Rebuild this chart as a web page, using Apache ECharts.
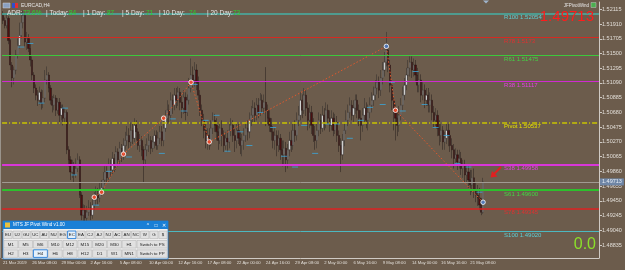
<!DOCTYPE html>
<html>
<head>
<meta charset="utf-8">
<script src="https://cdn.jsdelivr.net/npm/echarts@6/dist/echarts.min.js"></script>
<style>
html, body { margin: 0; padding: 0; background: #6c5c4c; }
#main { width: 625px; height: 270px; }
</style>
</head>
<body>
<div id="main"></div>
<script>
/**
 * 数据
 */
// EURCAD H4 收盘价 / 最高价 / 最低价（第一根的开盘价单独给出）
var firstOpen = 1.5203;
var closes = [1.5196,1.5189,1.5199,1.5168,1.5134,1.5116,1.5127,1.5148,1.5161,1.5175,
	1.5193,1.5203,1.5166,1.5171,1.5157,1.5141,1.5120,1.5102,1.5092,1.5085,
	1.5096,1.5081,1.5088,1.5113,1.5120,1.5102,1.5085,1.5078,1.5088,1.5071,
	1.5082,1.5064,1.5074,1.5060,1.5068,1.5016,1.5002,1.4985,1.4995,1.4981,
	1.4990,1.5002,1.4953,1.4925,1.4932,1.4921,1.4929,1.4935,1.4925,1.4939,
	1.4946,1.4953,1.4949,1.4960,1.4963,1.4974,1.4985,1.4977,1.4995,1.4988,
	1.5004,1.4995,1.5013,1.5002,1.5018,1.5009,1.5022,1.5029,1.5036,1.5027,
	1.5043,1.5032,1.5050,1.5041,1.5022,1.5029,1.5016,1.5002,1.5016,1.5022,
	1.5029,1.5018,1.5027,1.5036,1.5022,1.5032,1.5041,1.5029,1.5046,1.5060,
	1.5071,1.5064,1.5085,1.5078,1.5092,1.5085,1.5096,1.5082,1.5074,1.5089,
	1.5068,1.5085,1.5102,1.5120,1.5113,1.5127,1.5110,1.5092,1.5071,1.5057,
	1.5043,1.5029,1.5036,1.5027,1.5046,1.5057,1.5050,1.5041,1.5029,1.5046,
	1.5036,1.5022,1.5032,1.5027,1.5043,1.5050,1.5036,1.5029,1.5043,1.5032,
	1.5022,1.5029,1.5036,1.5046,1.5041,1.5057,1.5064,1.5074,1.5064,1.5078,
	1.5068,1.5085,1.5074,1.5082,1.5071,1.5060,1.5050,1.5041,1.5029,1.5036,
	1.5022,1.5032,1.5016,1.5009,1.5018,1.5002,1.5016,1.5029,1.5022,1.5043,
	1.5036,1.5057,1.5064,1.5085,1.5071,1.5092,1.5074,1.5057,1.5068,1.5050,
	1.5036,1.5029,1.5043,1.5057,1.5046,1.5064,1.5054,1.5071,1.5060,1.5050,
	1.5060,1.5043,1.5054,1.5036,1.5022,1.5009,1.5029,1.5043,1.5057,1.5068,
	1.5078,1.5064,1.5074,1.5085,1.5071,1.5060,1.5050,1.5064,1.5074,1.5057,
	1.5068,1.5078,1.5085,1.5092,1.5102,1.5110,1.5099,1.5116,1.5127,1.5138,
	1.5155,1.5134,1.5106,1.5085,1.5068,1.5060,1.5050,1.5064,1.5078,1.5092,
	1.5106,1.5120,1.5130,1.5138,1.5127,1.5134,1.5120,1.5106,1.5113,1.5092,
	1.5099,1.5085,1.5092,1.5078,1.5085,1.5068,1.5057,1.5064,1.5046,1.5036,
	1.5043,1.5027,1.5032,1.5043,1.5036,1.5022,1.5016,1.5004,1.5009,1.4999,
	1.5004,1.4990,1.4995,1.4981,1.4985,1.4974,1.4967,1.4977,1.4960,1.4953,
	1.4949,1.4939,1.4929,1.49713];
var highs = [1.5209,1.5200,1.5206,1.5202,1.5170,1.5138,1.5132,1.5155,1.5171,1.5193,
	1.5207,1.5210,1.5207,1.5180,1.5177,1.5163,1.5146,1.5124,1.5107,1.5099,
	1.5104,1.5100,1.5099,1.5127,1.5132,1.5124,1.5106,1.5091,1.5093,1.5092,
	1.5088,1.5088,1.5079,1.5079,1.5074,1.5071,1.5021,1.5007,1.5002,1.4999,
	1.5004,1.5011,1.5007,1.4957,1.4940,1.4939,1.4938,1.4946,1.4943,1.4949,
	1.4957,1.4965,1.4963,1.4971,1.4974,1.4985,1.4993,1.4993,1.5004,1.5002,
	1.5013,1.5010,1.5021,1.5018,1.5027,1.5024,1.5032,1.5041,1.5049,1.5046,
	1.5054,1.5052,1.5060,1.5057,1.5046,1.5038,1.5035,1.5021,1.5024,1.5032,
	1.5038,1.5035,1.5035,1.5043,1.5043,1.5041,1.5049,1.5049,1.5060,1.5071,
	1.5085,1.5079,1.5096,1.5093,1.5102,1.5102,1.5104,1.5102,1.5091,1.5099,
	1.5096,1.5093,1.5116,1.5143,1.5132,1.5138,1.5135,1.5118,1.5099,1.5079,
	1.5066,1.5052,1.5046,1.5046,1.5057,1.5068,1.5066,1.5060,1.5049,1.5054,
	1.5057,1.5043,1.5041,1.5043,1.5052,1.5060,1.5057,1.5046,1.5052,1.5052,
	1.5041,1.5038,1.5046,1.5054,1.5057,1.5068,1.5077,1.5085,1.5082,1.5088,
	1.5088,1.5095,1.5093,1.5093,1.5131,1.5079,1.5071,1.5060,1.5049,1.5046,
	1.5043,1.5043,1.5038,1.5029,1.5029,1.5027,1.5024,1.5041,1.5043,1.5054,
	1.5057,1.5068,1.5077,1.5096,1.5093,1.5102,1.5099,1.5082,1.5079,1.5077,
	1.5060,1.5049,1.5052,1.5068,1.5066,1.5077,1.5074,1.5082,1.5079,1.5071,
	1.5071,1.5068,1.5066,1.5063,1.5043,1.5032,1.5038,1.5054,1.5071,1.5079,
	1.5089,1.5085,1.5085,1.5093,1.5093,1.5079,1.5071,1.5074,1.5088,1.5082,
	1.5079,1.5089,1.5096,1.5104,1.5113,1.5121,1.5118,1.5127,1.5138,1.5152,
	1.5180,1.5163,1.5141,1.5113,1.5091,1.5079,1.5071,1.5077,1.5088,1.5104,
	1.5116,1.5130,1.5141,1.5146,1.5146,1.5143,1.5141,1.5130,1.5124,1.5121,
	1.5110,1.5107,1.5102,1.5102,1.5096,1.5093,1.5077,1.5074,1.5071,1.5057,
	1.5052,1.5049,1.5041,1.5054,1.5052,1.5043,1.5032,1.5024,1.5018,1.5016,
	1.5016,1.5013,1.5002,1.5002,1.4995,1.4995,1.4988,1.4988,1.4990,1.4971,
	1.4967,1.4963,1.4949,1.4977];
var lows = [1.5191,1.5185,1.5185,1.5163,1.5127,1.5103,1.5107,1.5121,1.5143,1.5157,
	1.5171,1.5185,1.5160,1.5155,1.5152,1.5132,1.5113,1.5095,1.5085,1.5077,
	1.5079,1.5072,1.5074,1.5082,1.5107,1.5096,1.5079,1.5068,1.5071,1.5063,
	1.5066,1.5054,1.5057,1.5050,1.5052,1.5010,1.4993,1.4974,1.4977,1.4971,
	1.4977,1.4985,1.4949,1.4918,1.4915,1.4915,1.4915,1.4924,1.4918,1.4920,
	1.4932,1.4938,1.4940,1.4943,1.4952,1.4957,1.4968,1.4968,1.4971,1.4979,
	1.4982,1.4985,1.4988,1.4993,1.4996,1.4999,1.5002,1.5016,1.5021,1.5018,
	1.5021,1.5024,1.5027,1.5029,1.5016,1.5013,1.5007,1.4971,1.4993,1.5007,
	1.5013,1.5010,1.5013,1.5018,1.5016,1.5016,1.5024,1.5021,1.5021,1.5041,
	1.5052,1.5054,1.5057,1.5066,1.5071,1.5074,1.5077,1.5071,1.5060,1.5066,
	1.5057,1.5063,1.5079,1.5096,1.5102,1.5104,1.5099,1.5085,1.5063,1.5049,
	1.5032,1.5018,1.5016,1.5016,1.5021,1.5038,1.5041,1.5029,1.5016,1.5024,
	1.5021,1.5013,1.5016,1.5013,1.5018,1.5035,1.5027,1.5013,1.5018,1.5024,
	1.5010,1.5007,1.5016,1.5027,1.5029,1.5032,1.5049,1.5054,1.5054,1.5057,
	1.5060,1.5063,1.5066,1.5066,1.5049,1.5052,1.5041,1.5029,1.5018,1.5016,
	1.5007,1.5013,1.5002,1.4993,1.4996,1.4985,1.4990,1.5007,1.5013,1.5016,
	1.5027,1.5029,1.5049,1.5057,1.5060,1.5066,1.5063,1.5043,1.5046,1.5038,
	1.5027,1.5016,1.5018,1.5035,1.5038,1.5041,1.5043,1.5046,1.5052,1.5041,
	1.5043,1.5035,1.5038,1.5027,1.5013,1.4985,1.5002,1.5021,1.5038,1.5049,
	1.5060,1.5057,1.5054,1.5066,1.5060,1.5049,1.5029,1.5041,1.5054,1.5046,
	1.5043,1.5060,1.5068,1.5077,1.5085,1.5093,1.5088,1.5091,1.5107,1.5118,
	1.5132,1.5124,1.5096,1.5071,1.5043,1.5029,1.5035,1.5041,1.5057,1.5071,
	1.5085,1.5099,1.5113,1.5118,1.5116,1.5118,1.5110,1.5096,1.5096,1.5082,
	1.5085,1.5074,1.5077,1.5068,1.5068,1.5057,1.5046,1.5049,1.5035,1.5022,
	1.5027,1.5016,1.5016,1.5024,1.5021,1.5013,1.5004,1.4990,1.4995,1.4988,
	1.4990,1.4981,1.4977,1.4970,1.4971,1.4963,1.4953,1.4957,1.4949,1.4943,
	1.4938,1.4932,1.4925,1.4927];

// 当前价
var currentPrice = 1.49713;

// 枢轴点水平线
var levelValues = [1.52054, 1.51730, 1.51475, 1.51117, 1.50537, 1.49958, 1.49600, 1.49345, 1.49020];
var levelLabels = ['R100 1.52054', 'R78 1.5173', 'R61 1.51475', 'R38 1.51117', 'Pivot 1.50537',
	'S38 1.49958', 'S61 1.49600', 'S78 1.49345', 'S100 1.49020'];

// 日开盘价短线（K线序号 / 价格）
var dayIdx = [10,15,21,34,39,51,58,69,87,93,99,105,111,117,123,130,135,141,148,154,160,165,171,178,183,190,196,201,208,213,219,226,231,237,243,249,255,261];
var dayPrice = [1.5159,1.5164,1.5081,1.5074,1.4981,1.4939,1.4986,1.5006,1.5011,1.5059,1.5070,1.5107,1.5057,1.5064,1.5014,1.5041,1.5022,1.5068,1.5047,1.5007,1.4992,1.5050,1.5011,1.5052,1.5052,1.5032,1.5057,1.5075,1.5079,1.5110,1.5070,1.5125,1.5079,1.5047,1.5036,1.4997,1.4992,1.4957];

// 折线（ZigZag）转折点
var zigIdx = [50, 54, 66, 88, 103, 113, 210, 215, 263];
var zigPrice = [1.4950, 1.4957, 1.5010, 1.5060, 1.5110, 1.5027, 1.5160, 1.5071, 1.4943];

// 坐标轴刻度
var yTicks = [1.52115, 1.51910, 1.51705, 1.51500, 1.51295, 1.51090, 1.50885, 1.50680, 1.50475,
	1.50270, 1.50065, 1.49860, 1.49655, 1.49450, 1.49245, 1.49040, 1.48835];
var xTickLabels = ['21 Mar 2019', '26 Mar 08:00', '29 Mar 00:00', '2 Apr 16:00', '5 Apr 08:00',
	'10 Apr 00:00', '12 Apr 16:00', '17 Apr 08:00', '22 Apr 00:00', '24 Apr 16:00', '29 Apr 08:00',
	'2 May 00:00', '6 May 16:00', '9 May 08:00', '14 May 00:00', '16 May 16:00', '21 May 08:00'];
var xTickStep = 16;

// ADR 信息
var adrLabels = ['ADR:', '| Today:', '| 1 Day:', '| 5 Day:', '| 10 Day:', '| 20 Day:'];
var adrValues = ['73.6%', '84', '87', '71', '74', '73'];

/**
 * 样式
 */
var FONT = 'Liberation Sans';
var SLOTS = 327; // 右侧留白（图表平移）
var levelColors = ['#46b0a6', '#d42a22', '#3cc83c', '#d02ad0', '#c8c400', '#d836d8', '#2cc02c', '#dc2222', '#4cb8c0'];
var levelTextColors = ['#5ccfd6', '#e03030', '#44d444', '#e044e0', '#e6e000', '#e044e0', '#44d444', '#e03030', '#5ccfd6'];
var levelWidths = [1.5, 1, 1, 1, 1.5, 2, 2, 1.5, 1];

/**
 * 构造
 */
var categories = [];
for (var i = 0; i < SLOTS; i++) categories.push(String(i));

var candles = closes.map(function(c, i) {
	var o = i === 0 ? firstOpen : closes[i - 1];
	return [o, c, lows[i], highs[i]];
});

var levelLines = levelValues.map(function(v, i) {
	return {
		yAxis: v,
		lineStyle: {
			color: levelColors[i],
			width: levelWidths[i],
			type: i === 4 ? [5, 2, 1, 2] : 'solid'
		},
		label: {
			show: true,
			formatter: levelLabels[i],
			position: 'insideStartBottom',
			distance: [502, 1],
			color: levelTextColors[i],
			fontSize: 6,
			fontFamily: FONT
		}
	};
});
levelLines.push({
	yAxis: currentPrice,
	lineStyle: { color: '#a09a92', width: 1, type: 'solid' },
	label: {
		show: true,
		formatter: currentPrice.toFixed(5),
		position: 'end',
		distance: 1,
		color: '#e8eef6',
		backgroundColor: '#6f86a6',
		padding: [1, 2, 0, 2],
		fontSize: 5.5,
		fontFamily: FONT
	}
});

// 图形元素（文字、面板）
var graphics = [];
function txt(x, y, s, color, size, align, weight) {
	graphics.push({
		type: 'text', x: x, y: y, z: 100,
		style: {
			text: s, fill: color, font: (weight || 'normal') + ' ' + size + 'px ' + FONT,
			textAlign: align || 'left', textVerticalAlign: 'middle'
		}
	});
}
function box(x, y, w, h, fill, stroke, lw) {
	graphics.push({
		type: 'rect', z: 99, shape: { x: x, y: y, width: w, height: h },
		style: { fill: fill, stroke: stroke || null, lineWidth: lw || 1 }
	});
}

// 左上角标题
box(3, 3, 7, 5, '#8aa0c0', '#d0d0d0', 0.5);
box(12, 3, 3, 5, '#3050c8');
box(15, 3, 3, 5, '#e03030');
txt(21, 6, 'EURCAD,H4', '#e6e6e6', 5);

// ADR 行
var adrLabelX = [7, 46, 83, 122, 159, 207];
var adrValueX = [23, 69, 107, 146, 189, 233];
for (var a = 0; a < adrLabels.length; a++) {
	txt(adrLabelX[a], 13.5, adrLabels[a], '#e4e4e4', 6.5);
	txt(adrValueX[a], 13.5, adrValues[a], '#2ed02e', 6.5);
}

// 右上角
txt(589, 5.5, 'JFPivotWind', '#e8e8e8', 4.5, 'right');
box(591, 2.5, 5, 5, '#4caf50', '#c0c0c0', 0.5);
txt(594, 17, currentPrice.toFixed(5), '#ff1c1c', 15, 'right');

// 右下角
txt(596, 245, '0.0', '#8be02a', 16, 'right');

// 红色箭头
graphics.push({
	type: 'polyline', z: 100,
	shape: { points: [[501, 167], [494, 174]] },
	style: { stroke: '#e02020', lineWidth: 2 }
});
graphics.push({
	type: 'polygon', z: 100,
	shape: { points: [[490.5, 177.5], [492, 171], [497.5, 176.5]] },
	style: { fill: '#e02020' }
});

// 顶部平移标记
graphics.push({
	type: 'polygon', z: 100,
	shape: { points: [[483, 0.5], [489, 0.5], [486, 3.5]] },
	style: { fill: '#9fb4cc' }
});

// 面板
var px = 3, py = 221, pw = 165;
box(px, py, pw, 38, '#f2f2f2', '#1a78d0', 0.8);
box(px, py, pw, 8, '#1a7fd6');
box(px + 2, py + 1.5, 5, 5, '#e8c040');
txt(px + 10, py + 4.2, 'MTS JF Pivot Wind v1.00', '#ffffff', 4.6);
txt(px + 145, py + 4.2, '^', '#ffffff', 5, 'center');
txt(px + 153, py + 4.2, '\u25a1', '#ffffff', 5, 'center');
txt(px + 161, py + 4.2, '\u2715', '#ffffff', 5, 'center');

var row1 = ['EU', 'UJ', 'GU', 'UC', 'AU', 'NU', 'EG', 'EC', 'EA', 'CJ', 'AJ', 'NJ', 'AC', 'AN', 'NC', 'W', 'G', '$'];
var row2 = ['M1', 'M5', 'M6', 'M10', 'M12', 'M15', 'M20', 'M30', 'H1'];
var row3 = ['H2', 'H3', 'H4', 'H6', 'H8', 'H12', 'D1', 'W1', 'MN1'];
function button(x, y, w, label, selected) {
	box(x, y, w, 7.6, selected ? '#e5f1fb' : '#e1e1e1', selected ? '#1e78d7' : '#adadad', selected ? 0.9 : 0.5);
	txt(x + w / 2, y + 3.9, label, '#1a1a1a', 4.4, 'center');
}
for (var b = 0; b < row1.length; b++) button(px + 0.8 + b * 9.12, py + 10, 8.3, row1[b], row1[b] === 'EC');
for (var b2 = 0; b2 < row2.length; b2++) button(px + 0.8 + b2 * 14.8, py + 19.5, 14, row2[b2], false);
button(px + 134, py + 19.5, 30.3, 'Switch to PS', false);
for (var b3 = 0; b3 < row3.length; b3++) button(px + 0.8 + b3 * 14.8, py + 28.8, 14, row3[b3], row3[b3] === 'H4');
button(px + 134, py + 28.8, 30.3, 'Switch to PP', false);

// 左侧边框
graphics.push({
	type: 'line', z: 98, shape: { x1: 0.5, y1: 0, x2: 0.5, y2: 258 },
	style: { stroke: '#9a948c', lineWidth: 1 }
});

/**
 * 绘图
 */
var myChart = echarts.init(document.getElementById('main'));
var option = {
	backgroundColor: '#6c5c4c',
	animation: false,
	grid: { left: 1, right: 26, top: 2, bottom: 12 },
	xAxis: {
		type: 'category',
		data: categories,
		boundaryGap: true,
		axisLine: { lineStyle: { color: '#cfcac4', width: 1 } },
		axisTick: {
			alignWithLabel: true,
			length: 3,
			lineStyle: { color: '#cfcac4' },
			interval: function(idx) { return idx % xTickStep === 0 && idx / xTickStep < xTickLabels.length; }
		},
		axisLabel: {
			interval: function(idx) { return idx % xTickStep === 0 && idx / xTickStep < xTickLabels.length; },
			formatter: function(val, idx) { return xTickLabels[Math.round(idx / xTickStep)] || ''; },
			align: 'left',
			margin: 2.5,
			color: '#e0dcd6',
			fontSize: 4.2,
			fontFamily: FONT
		},
		splitLine: { show: false }
	},
	yAxis: {
		type: 'value',
		position: 'right',
		min: 1.48654,
		max: 1.52217,
		scale: true,
		axisLine: { show: true, lineStyle: { color: '#cfcac4', width: 1 } },
		axisTick: { show: true, length: 3, customValues: yTicks, lineStyle: { color: '#cfcac4' } },
		axisLabel: {
			customValues: yTicks,
			formatter: function(v) { return v.toFixed(5); },
			margin: 3,
			color: '#e0dcd6',
			fontSize: 5.5,
			fontFamily: FONT
		},
		splitLine: { show: false }
	},
	series: [{
		name: 'levels',
		type: 'line',
		data: [],
		markLine: {
			silent: true,
			precision: 5,
			symbol: ['none', 'none'],
			animation: false,
			data: levelLines
		}
	}, {
		name: 'EURCAD',
		type: 'candlestick',
		data: candles,
		barWidth: 1.7,
		itemStyle: {
			color: '#cfcfcf',
			color0: '#4a1010',
			borderColor: '#2a2626',
			borderColor0: '#1c1414',
			borderWidth: 0.45
		},
		z: 3
	}, {
		name: 'zigzag',
		type: 'line',
		data: zigIdx.map(function(x, i) { return [x, zigPrice[i]]; }),
		symbol: 'none',
		lineStyle: { color: '#e2592c', width: 1, type: [1.5, 2] },
		z: 4
	}, {
		name: 'dayOpen',
		type: 'scatter',
		data: dayIdx.map(function(x, i) { return [x, dayPrice[i]]; }),
		symbol: 'rect',
		symbolSize: [6, 1],
		itemStyle: { color: '#3aa8dc' },
		z: 4
	}, {
		name: 'zigPoints',
		type: 'scatter',
		data: zigIdx.map(function(x, i) {
			var blue = (i === 6 || i === zigIdx.length - 1);
			return { value: [x, zigPrice[i]], itemStyle: { color: blue ? '#4a80d0' : '#ff4a28' } };
		}),
		symbol: 'circle',
		symbolSize: 4.5,
		itemStyle: { borderColor: '#ffffff', borderWidth: 1 },
		z: 5
	}],
	graphic: graphics
};
myChart.setOption(option);
</script>
</body>
</html>
